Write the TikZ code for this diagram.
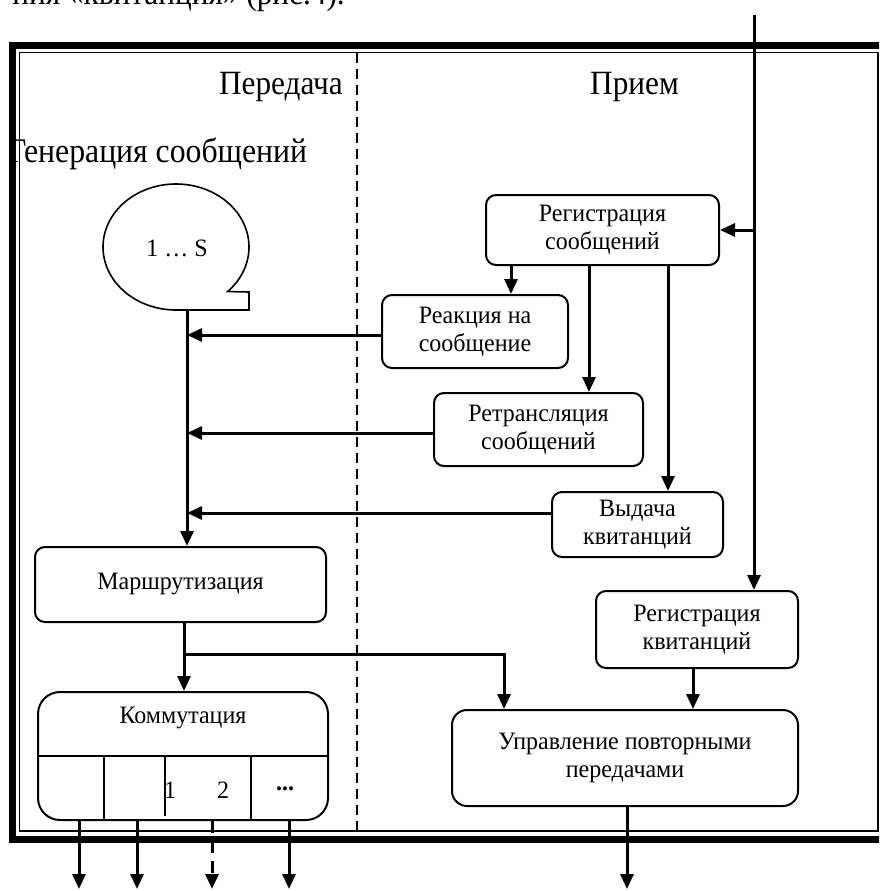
\documentclass[tikz,border=0pt]{standalone}
\usepackage{fontspec}
\setmainfont{Liberation Serif}
\newfontfamily\hdfont[FakeStretch=0.92]{Liberation Serif}
\newfontfamily\bxfont[FakeStretch=0.96]{Liberation Serif}
\usetikzlibrary{arrows.meta,calc}
\begin{document}
\begin{tikzpicture}[x=1pt,y=-1pt,
  blk/.style={draw,line width=2pt,rounded corners=10pt,align=center,
    font=\bxfont\fontsize{25}{28}\selectfont,inner sep=0pt},
  arr/.style={line width=3pt,-{Triangle[length=15pt,width=13pt]}},
  thin/.style={line width=2pt},
  lbl/.style={font=\bxfont\fontsize{25}{28}\selectfont,inner sep=0pt},
  big/.style={font=\hdfont\fontsize{34}{40}\selectfont,inner sep=0pt}]
\clip (0,0) rectangle (879,891);

% text line running above the frame
\node[big,anchor=base east] (cap) at (345,5) {ния «квитанция» (рис.4).};

% section headings
\node[big,anchor=base east] (tx) at (343,94) {Передача};
\node[big,anchor=base west] (rx) at (590,94) {Прием};
\node[big,anchor=base west,font=\hdfont\fontsize{34.5}{40}\selectfont] (gen) at (8,162) {Генерация сообщений};

% message source bubble
\draw[line width=1.6pt] (249,292) -- plot[domain=45:-270,samples=160] ({176+73*cos(\x)},{247+63*sin(\x)}) -- (249,310) -- cycle;
\node[lbl] (src) at (177,248) {1 … S};
\coordinate (genb) at (187,310);

% processing blocks
\node[blk,minimum width=233pt,minimum height=70pt] (regsoob) at (602.5,230) {Регистрация\\сообщений};
\node[blk,minimum width=186pt,minimum height=73pt] (reakc) at (475,331.5) {Реакция на\\сообщение};
\node[blk,minimum width=209pt,minimum height=73pt] (retr) at (538.5,429.5) {Ретрансляция\\сообщений};
\node[blk,minimum width=171pt,minimum height=65pt] (vyd) at (637.5,524.5) {Выдача\\квитанций};
\node[blk,minimum width=202pt,minimum height=77pt] (regkv) at (697,629.5) {Регистрация\\квитанций};
\node[blk,rounded corners=15pt,minimum width=346pt,minimum height=96pt] (upr) at (625,758) {Управление повторными\\передачами};
\node[blk,minimum width=291pt,minimum height=75pt] (marsh) at (180.5,584.5) {Маршрутизация};
\node[draw,line width=2pt,rounded corners=22pt,minimum width=290pt,minimum height=128pt,inner sep=0pt] (komm) at (183,756) {};

% switching block: title and output cells
\node[lbl] (kt) at (183,718) {Коммутация};
\draw[thin] (komm.west) -- (komm.east);
\coordinate (d1) at (104,0);
\coordinate (d2) at (165,0);
\coordinate (d3) at (251,0);
\draw[thin] (komm.center -| d1) -- (komm.south -| d1);
\draw[thin] (komm.center -| d2) -- (165,816);
\draw[thin] (komm.center -| d3) -- (komm.south -| d3);
\node[lbl] (n1) at (170,790) {1};
\node[lbl] (n2) at (223,790) {2};
\node[lbl] (n3) at (285,789) {\textbf{...}};

% helper coordinates for connectors
\coordinate (cTop) at (754,15);
\coordinate (cReak) at (511,0);
\coordinate (cRetr) at (589,0);
\coordinate (cVyd) at (668,0);
\coordinate (cKv) at (693,0);
\coordinate (cOut) at (627,889);
\coordinate (cUp) at (504,0);
\coordinate (j) at (184,654);
\coordinate (o1) at (79,889);
\coordinate (o2) at (137,889);
\coordinate (o3) at (212,889);
\coordinate (o4) at (289,889);

% connectors
\draw[arr] (genb) -- (genb |- marsh.north);
\draw[arr] ([yshift=-3.5pt]reakc.west) -- ([yshift=-3.5pt]reakc.west -| genb);
\draw[arr] ([yshift=-3.5pt]retr.west) -- ([yshift=-3.5pt]retr.west -| genb);
\draw[arr] ([yshift=11.5pt]vyd.west) -- ([yshift=11.5pt]vyd.west -| genb);
\draw[arr] (cTop) -- (cTop |- regkv.north);
\draw[arr] (cTop |- regsoob.east) -- (regsoob.east);
\draw[arr] (regsoob.south -| cReak) -- (reakc.north -| cReak);
\draw[arr] (regsoob.south -| cRetr) -- (retr.north -| cRetr);
\draw[arr] (regsoob.south -| cVyd) -- (vyd.north -| cVyd);
\draw[arr] (regkv.south -| cKv) -- (upr.north -| cKv);
\draw[arr] (upr.south -| cOut) -- (cOut);
\draw[arr] (marsh.south -| j) -- (komm.north -| j);
\draw[arr] (j) -| (upr.north -| cUp);
\draw[arr] (komm.south -| o1) -- (o1);
\draw[arr] (komm.south -| o2) -- (o2);
\draw[arr,dash pattern=on 12pt off 8pt] (komm.south -| o3) -- (o3);
\draw[arr] (komm.south -| o4) -- (o4);

% divider between transmit and receive sides
\draw[line width=2pt,dash pattern=on 10pt off 6pt] (357,53) -- (357,831);

% double page frame
\draw[line width=7pt] (940,45.5) -| (12.5,839.5) -- (940,839.5);
\draw[line width=1.4pt] (19.5,52.5) rectangle (878,831);
\end{tikzpicture}
\end{document}
